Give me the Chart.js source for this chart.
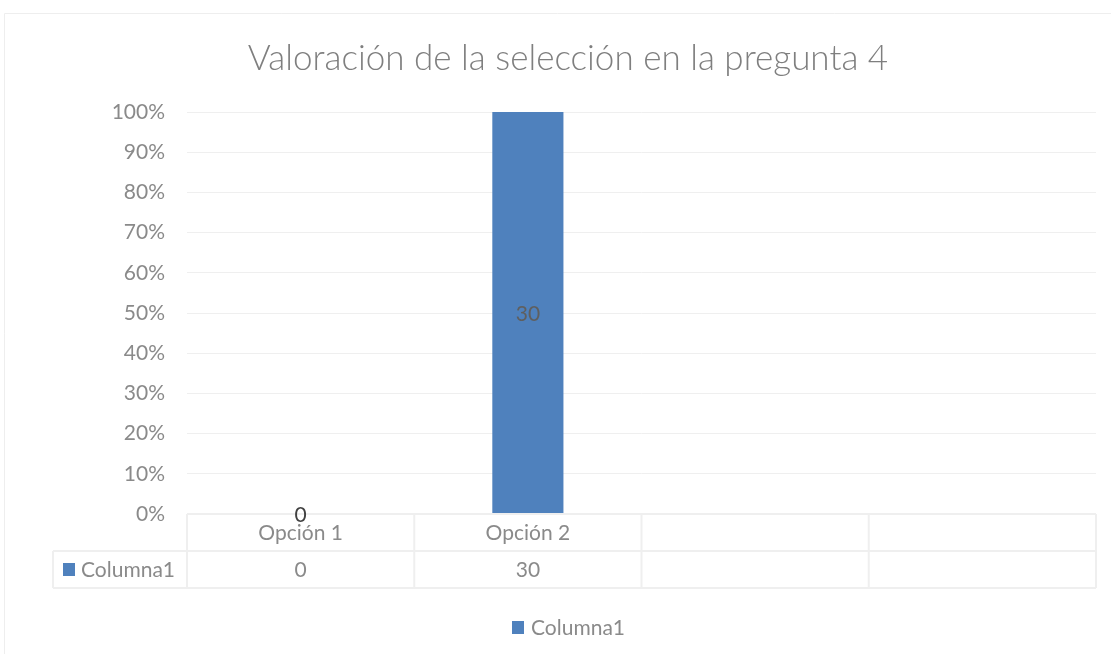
<!DOCTYPE html>
<html>
<head>
<meta charset="utf-8">
<script src="https://cdn.jsdelivr.net/npm/chart.js@4"></script>
<style>
html,body{margin:0;padding:0;background:#fff;}
#wrap{width:1111px;height:654px;position:relative;}
</style>
</head>
<body>
<div id="wrap"><canvas id="c" width="1111" height="654"></canvas></div>
<script>
const chartTitle = "Valoración de la selección en la pregunta 4";
const categories = ["Opción 1", "Opción 2", "", ""];
const seriesName = "Columna1";
const seriesValues = [0, 30, null, null];
const yTickLabels = ["0%","10%","20%","30%","40%","50%","60%","70%","80%","90%","100%"];

const FONT = "Lato, 'Open Sans', sans-serif";
const BAR = "#4f81bd";
const GREY = "#8a8a8a";
const LINE = "#efefef";
const FS = 21;

// 100% stacked: share of each value in its category's total
const pctValues = seriesValues.map(v => (v === null ? null : (v > 0 ? v / v * 100 : 0)));

const decor = {
  id: 'decor',
  afterDraw(chart) {
    const ctx = chart.ctx;
    const ca = chart.chartArea;
    const xs = chart.scales.x;
    const n = categories.length;
    const w = (ca.right - ca.left) / n;
    ctx.save();
    // outer border
    ctx.strokeStyle = "#eeeeee";
    ctx.lineWidth = 1;
    ctx.beginPath();
    ctx.moveTo(4.5, 654); ctx.lineTo(4.5, 13.5); ctx.lineTo(1111, 13.5);
    ctx.stroke();
    // title
    ctx.fillStyle = "#7f7f7f";
    ctx.font = "300 35px " + FONT;
    ctx.textAlign = "center";
    ctx.textBaseline = "alphabetic";
    ctx.fillText(chartTitle, 568, 70);

    // data table
    const r0 = ca.bottom, r1 = r0 + 37, r2 = r1 + 37;
    const legL = 53;
    ctx.strokeStyle = LINE;
    ctx.lineWidth = 2;
    ctx.beginPath();
    ctx.moveTo(ca.left, r0); ctx.lineTo(ca.right, r0);
    ctx.moveTo(legL, r1); ctx.lineTo(ca.right, r1);
    ctx.moveTo(legL, r2); ctx.lineTo(ca.right, r2);
    ctx.moveTo(legL, r1); ctx.lineTo(legL, r2);
    for (let i = 0; i <= n; i++) {
      const x = ca.left + i * w;
      ctx.moveTo(x, r0); ctx.lineTo(x, r2);
    }
    ctx.stroke();

    ctx.font = FS + "px " + FONT;
    ctx.fillStyle = GREY;
    ctx.textAlign = "center";
    ctx.textBaseline = "middle";
    categories.forEach((c, i) => {
      const x = xs.getPixelForValue(i);
      ctx.fillText(c, x, (r0 + r1) / 2 + 1);
      const v = seriesValues[i];
      if (v !== null) ctx.fillText(String(v), x, (r1 + r2) / 2 + 1);
    });
    // legend key in table
    ctx.fillStyle = BAR;
    ctx.fillRect(63, 563, 12, 13);
    ctx.fillStyle = GREY;
    ctx.textAlign = "left";
    ctx.fillText(seriesName, 81, (r1 + r2) / 2 + 1);

    // bottom legend
    ctx.fillStyle = BAR;
    ctx.fillRect(512, 621, 12, 13);
    ctx.fillStyle = GREY;
    ctx.fillText(seriesName, 531, 628);

    // data labels
    ctx.font = FS + "px " + FONT;
    ctx.textAlign = "center";
    const meta = chart.getDatasetMeta(0);
    meta.data.forEach((el, i) => {
      const v = seriesValues[i];
      if (v === null) return;
      if (v === 0) {
        ctx.fillStyle = "#404040";
        ctx.textBaseline = "middle";
        ctx.fillText(String(v), el.x, ca.bottom + 1);
      } else {
        ctx.fillStyle = "#5f5f5f";
        ctx.textBaseline = "middle";
        ctx.fillText(String(v), el.x, (el.y + el.base) / 2 + 1);
      }
    });
    ctx.restore();
  }
};

new Chart(document.getElementById('c'), {
  type: 'bar',
  data: {
    labels: categories,
    datasets: [{
      label: seriesName,
      data: pctValues,
      backgroundColor: BAR,
      borderWidth: 0,
      categoryPercentage: 1,
      barPercentage: 0.313
    }]
  },
  options: {
    responsive: false,
    animation: false,
    devicePixelRatio: 1,
    layout: { padding: { left: 0, right: 15, top: 112, bottom: 140 } },
    plugins: { legend: { display: false }, title: { display: false }, tooltip: { enabled: false } },
    scales: {
      x: { display: false, stacked: true },
      y: {
        stacked: true,
        min: 0, max: 100,
        afterFit(s) { s.width = 187; },
        afterBuildTicks(s) { s.ticks = yTickLabels.map((t, i) => ({ value: i * 10 })); },
        ticks: {
          padding: 22,
          color: GREY,
          font: { family: FONT, size: FS },
          callback: (v, i) => yTickLabels[i]
        },
        grid: { color: LINE, lineWidth: 1, drawTicks: false },
        border: { display: false }
      }
    }
  },
  plugins: [decor]
});
</script>
</body>
</html>
